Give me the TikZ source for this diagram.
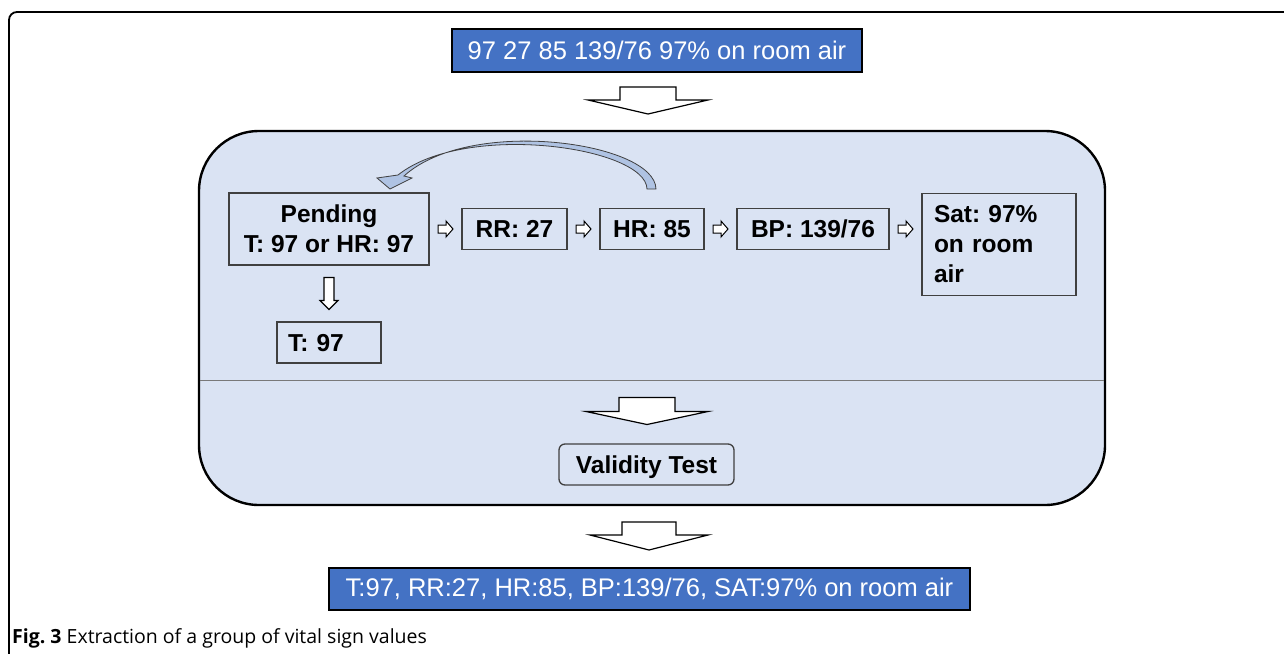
\documentclass[tikz,border=0pt]{standalone}
\usepackage{fontspec}
\setmainfont{Liberation Sans}
\newfontfamily\capfont{Open Sans}
\usetikzlibrary{positioning,calc}
\definecolor{vitalblue}{HTML}{4472C4}
\definecolor{panelblue}{HTML}{DAE3F3}
\definecolor{curveblue}{HTML}{AFC3E3}
\definecolor{boxline}{HTML}{404040}
\tikzset{
    blue-box/.style = {draw=black, fill=vitalblue, line width=2pt, text=white, font=\fontsize{25.5}{30}\selectfont, inner sep=0pt},
    value-box/.style = {draw=boxline, line width=1.3pt, font=\bfseries\fontsize{24.5}{30}\selectfont, inner sep=0pt, outer sep=0pt, minimum height=41pt, text depth=0pt},
    panel-box/.style = {draw=black, fill=panelblue, line width=2.4pt, rounded corners=60pt, inner sep=0pt},
    block-arrow/.style = {draw=black, fill=white, line width=1.2pt, line join=miter},
}
% outlined block arrows
\newcommand{\dblock}[5]{\draw[block-arrow] #1 ++(-#2,{-(#4+#5)/2}) -- ++(2*#2,0) -- ++(0,#4) -- ++(#3-#2,0) -- ++(-#3,#5) -- ++(-#3,-#5) -- ++(#3-#2,0) -- cycle;}
\newcommand{\rblock}[1]{\draw[block-arrow, line width=1pt] #1 ++(-7.5,-4) -- ++(8,0) -- ++(0,-4) -- ++(7,8) -- ++(-7,8) -- ++(0,-4) -- ++(-8,0) -- cycle;}

\begin{document}
\frenchspacing
\begin{tikzpicture}[x=1pt, y=-1pt, node distance=33pt]
\useasboundingbox (0,0) rectangle (1284,653);
\draw[line width=1.8pt, rounded corners=8pt] (1290,12) -- (9,12) -- (9,660);

\node[panel-box, minimum width=906, minimum height=374] (panel) at (652,318) {};
\draw[boxline!70, line width=0.9pt] (200,380) -- (1104,380);

\node[blue-box, minimum width=410, minimum height=43] (raw) at (657,50) {97 27 85 139/76 97\% on room air};
\dblock{(648,100.5)}{28}{60}{13}{14}

% values found in the text
\node[value-box, minimum width=200, minimum height=72, align=center] (pending) at (329,229) {Pending\\T: 97 or HR: 97};
\node[value-box, minimum width=105, right=of pending] (rr) {RR: 27};
\node[value-box, minimum width=104, right=of rr] (hr) {HR: 85};
\node[value-box, minimum width=152, right=of hr] (bp) {BP: 139/76};
\node[value-box, right=of bp.north east, anchor=north west, yshift=15pt, minimum width=154, minimum height=102, text width=130, text depth=, inner xsep=12pt, align=left] (sat) {Sat: 97\%\\on room\\air};
\node[value-box, below=57pt of pending, minimum width=104, text width=82, inner xsep=11pt, align=left] (tval) {T: 97};

\rblock{($(pending.east)!.5!(rr.west)$)}
\rblock{($(rr.east)!.5!(hr.west)$)}
\rblock{($(hr.east)!.5!(bp.west)$)}
\rblock{($(bp.east |- hr.east)!.5!(sat.west |- hr.east)$)}
\dblock{($(pending.south)!.5!(tval.north)$)}{5}{9}{23}{9}

% back to the pending value
\draw[draw=boxline, fill=curveblue, line width=0.8pt, line join=miter]
  (656,189) .. controls (655,142) and (470,116) .. (404,176)
  -- (412,178) -- (390,189) -- (377,178) -- (398,175)
  .. controls (466,121) and (646,147) .. (647,189) -- cycle;

\dblock{(647,411)}{28}{61}{14}{13}
\node[value-box, rounded corners=6pt, minimum width=175] (valid) at (646.5,464.5) {Validity Test};

\dblock{(649,536)}{27}{59}{13}{15}
\node[blue-box, minimum width=641, minimum height=42] (result) at (649.5,589) {T:97, RR:27, HR:85, BP:139/76, SAT:97\% on room air};

\node[anchor=base west, inner sep=0pt, font=\capfont\fontsize{19.5}{23}\selectfont] (caption) at (12,643) {\textbf{Fig. 3} Extraction of a group of vital sign values};
\end{tikzpicture}
\end{document}
